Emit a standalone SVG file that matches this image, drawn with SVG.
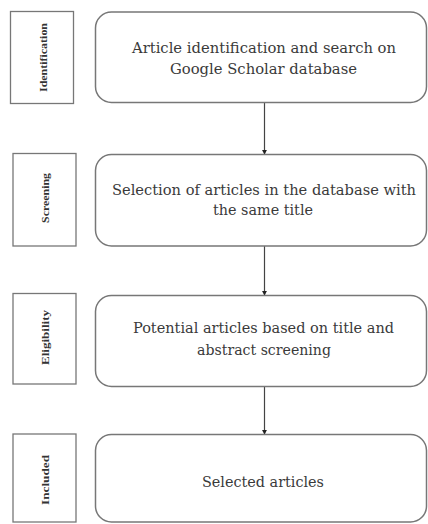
<svg xmlns="http://www.w3.org/2000/svg" width="428" height="524" viewBox="0 0 428 524">
<style>
.lab{fill:#fff;stroke:#777;stroke-width:1.3}
.box{fill:#fff;stroke:#777;stroke-width:1.5}
.lt{font-family:"Liberation Serif","Times New Roman",serif;font-size:11px;font-weight:bold;fill:#333;text-anchor:middle}
.mt{font-family:"DejaVu Serif",serif;font-size:15px;fill:#3a3a3a;text-anchor:middle}
.con{stroke:#444;stroke-width:1.2;fill:none;marker-end:url(#dot)}
</style>
<defs>
<marker id="dot" viewBox="0 0 6 6" refX="5" refY="3" markerWidth="5" markerHeight="5" orient="auto" markerUnits="userSpaceOnUse">
<path d="M0,0 L6,3 L0,6 Z" fill="#222"/>
</marker>
</defs>
<rect width="428" height="524" fill="#fff"/>
<g id="connectors">
<line class="con" x1="264.5" y1="103" x2="264.5" y2="154"/>
<line class="con" x1="264.5" y1="246" x2="264.5" y2="295"/>
<line class="con" x1="264.5" y1="387" x2="264.5" y2="434"/>
</g>
<g id="label1">
<rect class="lab" x="10.5" y="11.5" width="63" height="92"/>
<text class="lt" transform="translate(47,57.5) rotate(-90)" textLength="69" lengthAdjust="spacingAndGlyphs">Identification</text>
</g>
<g id="node1">
<rect class="box" x="95.5" y="12" width="331" height="90.5" rx="16"/>
<text class="mt" x="264" y="53" textLength="264" lengthAdjust="spacingAndGlyphs">Article identification and search on</text>
<text class="mt" x="263.5" y="74" textLength="187" lengthAdjust="spacingAndGlyphs">Google Scholar database</text>
</g>
<g id="label2">
<rect class="lab" x="13" y="153.5" width="63" height="92.5"/>
<text class="lt" transform="translate(49,198) rotate(-90)" textLength="50" lengthAdjust="spacingAndGlyphs">Screening</text>
</g>
<g id="node2">
<rect class="box" x="95.5" y="154.5" width="331" height="91.5" rx="16"/>
<text class="mt" x="264" y="195" textLength="304" lengthAdjust="spacingAndGlyphs">Selection of articles in the database with</text>
<text class="mt" x="263" y="215" textLength="100" lengthAdjust="spacingAndGlyphs">the same title</text>
</g>
<g id="label3">
<rect class="lab" x="13" y="293.5" width="63" height="90.5"/>
<text class="lt" transform="translate(49,337.5) rotate(-90)" textLength="55" lengthAdjust="spacingAndGlyphs">Eligibility</text>
</g>
<g id="node3">
<rect class="box" x="95.5" y="295.5" width="331" height="91" rx="16"/>
<text class="mt" x="263.5" y="333" textLength="261" lengthAdjust="spacingAndGlyphs">Potential articles based on title and</text>
<text class="mt" x="264" y="355" textLength="134" lengthAdjust="spacingAndGlyphs">abstract screening</text>
</g>
<g id="label4">
<rect class="lab" x="13" y="434" width="63" height="88"/>
<text class="lt" transform="translate(49,480) rotate(-90)" textLength="50" lengthAdjust="spacingAndGlyphs">Included</text>
</g>
<g id="node4">
<rect class="box" x="95.5" y="434.5" width="331" height="87.5" rx="16"/>
<text class="mt" x="263" y="487" textLength="122" lengthAdjust="spacingAndGlyphs">Selected articles</text>
</g>
</svg>
